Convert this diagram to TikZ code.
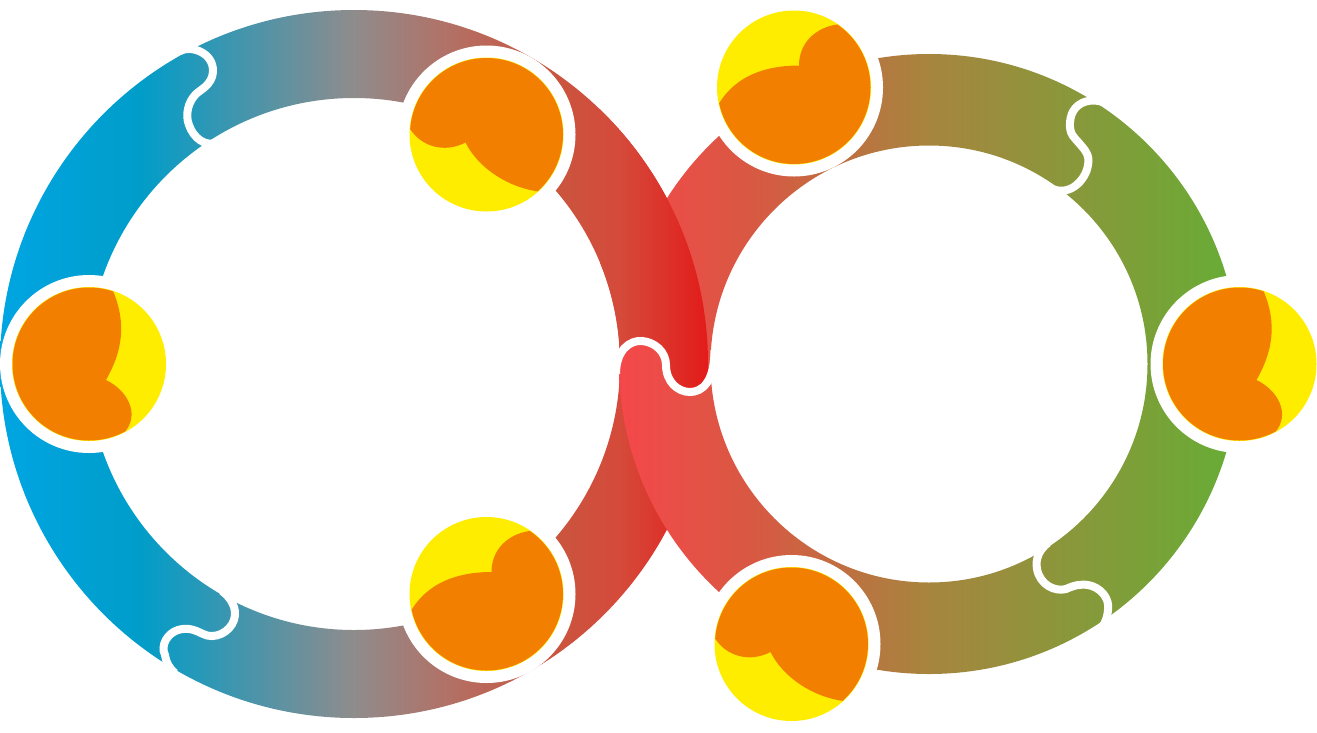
\documentclass[tikz,border=0pt]{standalone}
\usepackage{tikz}
\definecolor{ballyellow}{RGB}{255,237,0}
\definecolor{ballorange}{RGB}{242,127,0}
\definecolor{bandblue}{RGB}{0,165,226}
\definecolor{bandteal}{RGB}{0,157,201}
\definecolor{bandgrey}{RGB}{143,140,140}
\definecolor{bandrose}{RGB}{179,112,101}
\definecolor{bandbrick}{RGB}{201,86,63}
\definecolor{bandscarlet}{RGB}{213,74,58}
\definecolor{bandred}{RGB}{227,27,26}
\definecolor{bandcoral}{RGB}{245,71,74}
\definecolor{bandrust}{RGB}{214,90,66}
\definecolor{bandochre}{RGB}{167,133,63}
\definecolor{bandgreen}{RGB}{102,173,53}
\pgfdeclarehorizontalshading{leftband}{100bp}{color(0bp)=(bandblue); color(25bp)=(bandblue); color(34.9bp)=(bandteal); color(50bp)=(bandgrey); color(56.8bp)=(bandrose); color(63.8bp)=(bandbrick); color(68.8bp)=(bandscarlet); color(75bp)=(bandred); color(100bp)=(bandred)}
\pgfdeclarehorizontalshading{rightband}{100bp}{color(0bp)=(bandcoral); color(25bp)=(bandcoral); color(36.4bp)=(bandrust); color(50bp)=(bandochre); color(75bp)=(bandgreen); color(100bp)=(bandgreen)}
\tikzstyle{leftring}=[shading=leftband,even odd rule]
\tikzstyle{rightring}=[shading=rightband,even odd rule]
\tikzstyle{seam} = [draw=white,line width=8pt]
\tikzstyle{ballrim}=[fill=white]
\tikzstyle{ballbase}=[fill=ballyellow]
\tikzstyle{ballcut}=[fill=ballorange]
\def\hookline{(616,374) .. controls (616,350) and (630,340) .. (642,341) .. controls (655,342) and (666,352) .. (666,365) .. controls (666,382) and (678,392) .. (690,392) .. controls (702,392) and (714.5,382) .. (714.5,350)}
\tikzset{
  ballcap/.pic={
    \fill[ballrim] (0,0) circle (89);
    \fill[ballbase] (0,0) circle (77);
    \begin{scope}
      \clip (0,0) circle (76.5);
      \fill[ballcut] (-76,-5) .. controls (-65,12) and (-42,19) .. (-21,8) .. controls (-8,34) and (22,53) .. (52,57) -- (90,90) -- (90,-90) -- (-90,-90) -- (-90,-5) -- cycle;
    \end{scope}
  },
  ballcup/.pic={
    \fill[ballrim] (0,0) circle (89);
    \fill[ballbase] (0,0) circle (77);
    \begin{scope}
      \clip (0,0) circle (76.5);
      \fill[ballcut] (-75,16) .. controls (-58,-12) and (-28,-22) .. (5,-22) .. controls (5,-45) and (22,-60) .. (43,-63) -- (90,-90) -- (90,90) -- (-90,90) -- (-90,16) -- cycle;
    \end{scope}
  },
  ballside/.pic={
    \fill[ballrim] (0,0) circle (89);
    \fill[ballbase] (0,0) circle (77);
    \begin{scope}
      \clip (0,0) circle (76.5);
      \fill[ballcut] (24,-73) .. controls (38,-40) and (33,-12) .. (17,16) .. controls (38,26) and (52,50) .. (35,69) -- (40,90) -- (-90,90) -- (-90,-90) -- (24,-90) -- cycle;
    \end{scope}
  }
}
\begin{document}
\begin{tikzpicture}[x=1pt,y=-1pt]
\useasboundingbox (0,0) rectangle (1317,732);

    % both rings, the right one lies over the left one
    \shade[leftring] (354,364) circle (354) (354,364) circle (266);
    \shade[rightring] (929,364) circle (310) (929,364) circle (218.5);

    % upper end of the left ring comes back on top
    \begin{scope}
        \clip \hookline -- (730,0) -- (600,0) -- (600,374) -- cycle;
        \shade[leftring] (354,364) circle (354) (354,364) circle (266);
    \end{scope}

    % white seams between the pieces
    \draw[seam] \hookline;
    \draw[seam] (180,51) .. controls (190,45) and (214,52) .. (213,72) .. controls (212,85) and (200,90) .. (196,94) .. controls (188,102) and (185,115) .. (189,125) .. controls (193,137) and (205,148) .. (218,142);
    \draw[seam] (1108,105) .. controls (1098,97) and (1072,98) .. (1070,122) .. controls (1069,135) and (1075,138) .. (1079,143) .. controls (1085,150) and (1090,155) .. (1088,165) .. controls (1086,180) and (1068,200) .. (1047,186);
    \draw[seam] (1048,543) .. controls (1040,549) and (1035,558) .. (1037,569) .. controls (1040,585) and (1055,592) .. (1066,589) .. controls (1075,585) and (1080,584) .. (1088,585) .. controls (1100,587) and (1110,598) .. (1108,610) .. controls (1107,620) and (1104,628) .. (1092,636);
    \draw[seam] (222,591) .. controls (230,597) and (238,608) .. (234,620) .. controls (230,632) and (215,640) .. (203,634) .. controls (195,630) and (188,627) .. (178,630) .. controls (168,633) and (160,645) .. (165,655) .. controls (166,662) and (169,668) .. (175,673);

    \foreach \pos/ \name in {{(486.5,134.5)/capleft},{(791.5,644)/capright}}
        \pic (\name) at \pos {ballcap};
    \foreach \pos/ \name in {{(486.5,594)/cupleft},{(794,87.5)/cupright}}
        \pic (\name) at \pos {ballcup};
    \foreach \pos/ \name in {{(89,364)/sideleft},{(1239.5,364)/sideright}}
        \pic (\name) at \pos {ballside};

\end{tikzpicture}
\end{document}
